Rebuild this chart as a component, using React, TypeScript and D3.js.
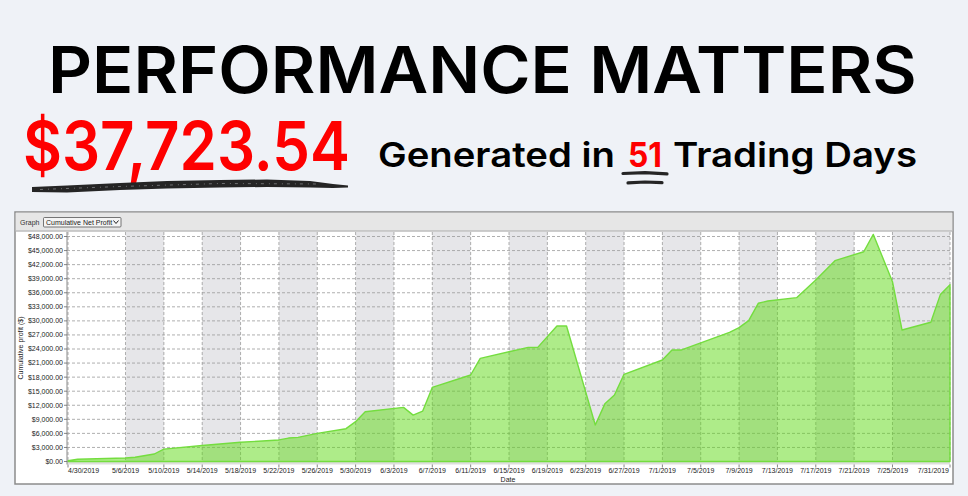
import React, { useLayoutEffect, useRef } from "react";
import * as d3 from "d3";

const dates = [
  "2019-04-30","2019-05-01","2019-05-06","2019-05-07","2019-05-09","2019-05-10","2019-05-14","2019-05-18",
  "2019-05-22","2019-05-23","2019-05-24","2019-05-26","2019-05-29","2019-05-30","2019-05-31","2019-06-04",
  "2019-06-05","2019-06-06","2019-06-07","2019-06-11","2019-06-12","2019-06-17","2019-06-18","2019-06-20",
  "2019-06-21","2019-06-24","2019-06-25","2019-06-26","2019-06-27","2019-07-01","2019-07-02","2019-07-03",
  "2019-07-08","2019-07-09","2019-07-10","2019-07-11","2019-07-12","2019-07-15","2019-07-17","2019-07-19",
  "2019-07-22","2019-07-23","2019-07-25","2019-07-26","2019-07-29","2019-07-30","2019-07-31"
];
const profits = [
  170, 470, 750, 900, 1600, 2650, 3400, 4100,
  4600, 5000, 5150, 6000, 7000, 8500, 10600, 11550,
  9900, 10750, 15800, 18450, 22000, 24350, 24350, 28900,
  28900, 7800, 12300, 14200, 18600, 21650, 23800, 23800,
  27550, 28550, 30050, 33750, 34250, 34950, 38700, 42850,
  44750, 48450, 38350, 28050, 29700, 35650, 37723.54
];
const xTickLabels = [
  "4/30/2019","5/6/2019","5/10/2019","5/14/2019","5/18/2019","5/22/2019","5/26/2019","5/30/2019",
  "6/3/2019","6/7/2019","6/11/2019","6/15/2019","6/19/2019","6/23/2019","6/27/2019","7/1/2019",
  "7/5/2019","7/9/2019","7/13/2019","7/17/2019","7/21/2019","7/25/2019","7/31/2019"
];
const yTicks = [0,3000,6000,9000,12000,15000,18000,21000,24000,27000,30000,33000,36000,39000,42000,45000,48000];

const titleText = "PERFORMANCE MATTERS";
const amountText = "$37,723.54";
const generatedText = "Generated in";
const daysText = "51";
const tradingText = "Trading Days";

export default function App() {
  const svgRef = useRef<SVGSVGElement>(null);

  useLayoutEffect(() => {
    const fit = () => {
      const svg = svgRef.current;
      if (!svg) return;
      svg.querySelectorAll<SVGTextElement>("text[data-w]").forEach((el) => {
        el.removeAttribute("transform");
        const tw = +(el.getAttribute("data-w") || 0);
        const tx = +(el.getAttribute("data-x") || 0);
        const bb = el.getBBox();
        if (!bb.width) return;
        const s = tw / bb.width;
        el.setAttribute("transform", `translate(${tx},0) scale(${s},1) translate(${-bb.x},0)`);
      });
    };
    fit();
    if ((document as any).fonts && (document as any).fonts.ready) {
      (document as any).fonts.ready.then(fit);
    }
  }, []);

  const W = 968, H = 496;
  const L = 67, R = 950, T = 232, B = 461.5;
  const parseD = d3.utcParse("%Y-%m-%d");
  const parseT = d3.utcParse("%m/%d/%Y");
  const x = d3.scaleUtc()
    .domain([parseT("4/30/2019") as Date, parseT("7/31/2019") as Date])
    .range([68, 950]);
  const y = d3.scaleLinear().domain([0, 48000]).range([461.5, 236.5]);
  const data = dates.map((d, i) => ({ d: parseD(d) as Date, v: profits[i] }));
  const ticks = xTickLabels.map((t) => ({ t, d: parseT(t) as Date }));
  const area = d3.area<{ d: Date; v: number }>()
    .x((p) => x(p.d)).y0(y(0)).y1((p) => y(p.v));
  const fmt = (v: number) => "$" + d3.format(",.2f")(v);
  const font = "'Liberation Sans', Arial, sans-serif";
  const head = "Inter, 'Noto Sans', sans-serif";

  return (
    <svg ref={svgRef} width={W} height={H} style={{ position: "absolute", left: 0, top: 0 }}>
      <rect x={0} y={0} width={W} height={H} fill="#eff2f7" />
      {/* Headline */}
      <text x={48} y={93} data-x={48} data-w={869} fontFamily={head} fontWeight={600} fontSize={64} fill="#000">{titleText}</text>
      <text x={23} y={170} data-x={23} data-w={327} fontFamily={head} fontWeight={600} fontSize={68} fill="#fe0000">{amountText}</text>
      <text x={378} y={167} data-x={378} data-w={237} fontFamily={head} fontWeight={600} fontSize={34} fill="#000">{generatedText}</text>
      <text x={628} y={167} data-x={628} data-w={34} fontFamily={head} fontWeight={700} fontSize={34} fill="#fe0000">{daysText}</text>
      <text x={673} y={167} data-x={673} data-w={244} fontFamily={head} fontWeight={600} fontSize={34} fill="#000">{tradingText}</text>
      {/* scribbles */}
      <path d="M32,187 L67,185.5 L120,183 L167,181 L220,180 L267,179.5 L310,181 L333,184 L348,185.5 L348,187.5 L333,188 L310,187.5 L267,187 L220,187.5 L167,188.5 L120,190 L67,192.5 L32,192 Z"
        fill="#252525" />
      <path d="M40,189.5 L120,186.5 L220,183.5 L320,184" stroke="#eff2f7" strokeWidth={0.6}
        strokeDasharray="3 5 1 4" fill="none" opacity={0.6} />
      <path d="M623,173.5 L645,172.6 L667,173.8" stroke="#252525" strokeWidth={3.2} strokeLinecap="round" fill="none" />
      <path d="M628,182.8 L645,182 L662,182.6" stroke="#252525" strokeWidth={3.2} strokeLinecap="round" fill="none" />

      {/* chart panel */}
      <rect x={15} y={212} width={938} height={272} fill="#ffffff" stroke="#8c8c8c" strokeWidth={1.5} />
      <rect x={15.75} y={212.75} width={936.5} height={18} fill="#e6e6e6" />
      <line x1={15.75} x2={952.25} y1={231} y2={231} stroke="#bdbdbd" strokeWidth={1.5} />
      <text x={20} y={224.5} fontFamily={font} fontSize={7} fill="#333">Graph</text>
      <rect x={43.5} y={217.5} width={77.5} height={9.5} fill="#f4f4f4" stroke="#555" strokeWidth={0.8} rx={1} />
      <text x={46} y={225} fontFamily={font} fontSize={7} fill="#222">Cumulative Net Profit</text>
      <path d="M113.5,220.5 L116,223.5 L118.5,220.5" stroke="#222" strokeWidth={1} fill="none" />

      {/* plot background */}
      <rect x={L} y={T} width={R - L} height={B - T} fill="#ffffff" />
      {ticks.map((tk, i) =>
        i % 2 === 1 && i < ticks.length - 1 ? (
          <rect key={"b" + i} x={x(tk.d)} y={T} width={x(ticks[i + 1].d) - x(tk.d)} height={B - T} fill="#e6e6e9" />
        ) : null
      )}
      <rect x={L} y={B} width={R - L} height={3} fill="#dedede" />
      {yTicks.map((v) => (
        <line key={"gy" + v} x1={L} x2={R} y1={y(v)} y2={y(v)} stroke="#9a9a9a" strokeWidth={0.8} strokeDasharray="3 2" />
      ))}
      {ticks.map((tk, i) => (
        <line key={"gx" + i} x1={x(tk.d)} x2={x(tk.d)} y1={T} y2={B} stroke="#9a9a9a" strokeWidth={0.8} strokeDasharray="3 2" />
      ))}
      <path d={area(data) as string} fill="rgba(93,217,19,0.5)" stroke="#74dd3f" strokeWidth={1.4} strokeLinejoin="round" />

      {/* y axis */}
      <line x1={L} x2={L} y1={T} y2={B + 3} stroke="#888" strokeWidth={1} />
      {yTicks.map((v) => (
        <g key={"yt" + v}>
          <line x1={L - 3} x2={L} y1={y(v)} y2={y(v)} stroke="#666" strokeWidth={0.8} />
          <text x={L - 4} y={y(v) + 2.4} textAnchor="end" fontFamily={font} fontSize={7} fill="#222">{fmt(v)}</text>
        </g>
      ))}
      <text transform={`translate(23,${348}) rotate(-90)`} textAnchor="middle" fontFamily={font} fontSize={7} fill="#222">
        Cumulative profit ($)
      </text>

      {/* x axis */}
      {ticks.map((tk, i) => {
        const px = x(tk.d);
        const anchor = i === 0 ? "start" : i === ticks.length - 1 ? "end" : "middle";
        return (
          <g key={"xt" + i}>
            <line x1={px} x2={px} y1={B + 3} y2={B + 6} stroke="#666" strokeWidth={0.8} />
            <text x={i === ticks.length - 1 ? px - 1 : px} y={473} textAnchor={anchor} fontFamily={font} fontSize={7} fill="#222">{tk.t}</text>
          </g>
        );
      })}
      <text x={508} y={481.5} textAnchor="middle" fontFamily={font} fontSize={7} fill="#222">Date</text>
    </svg>
  );
}
